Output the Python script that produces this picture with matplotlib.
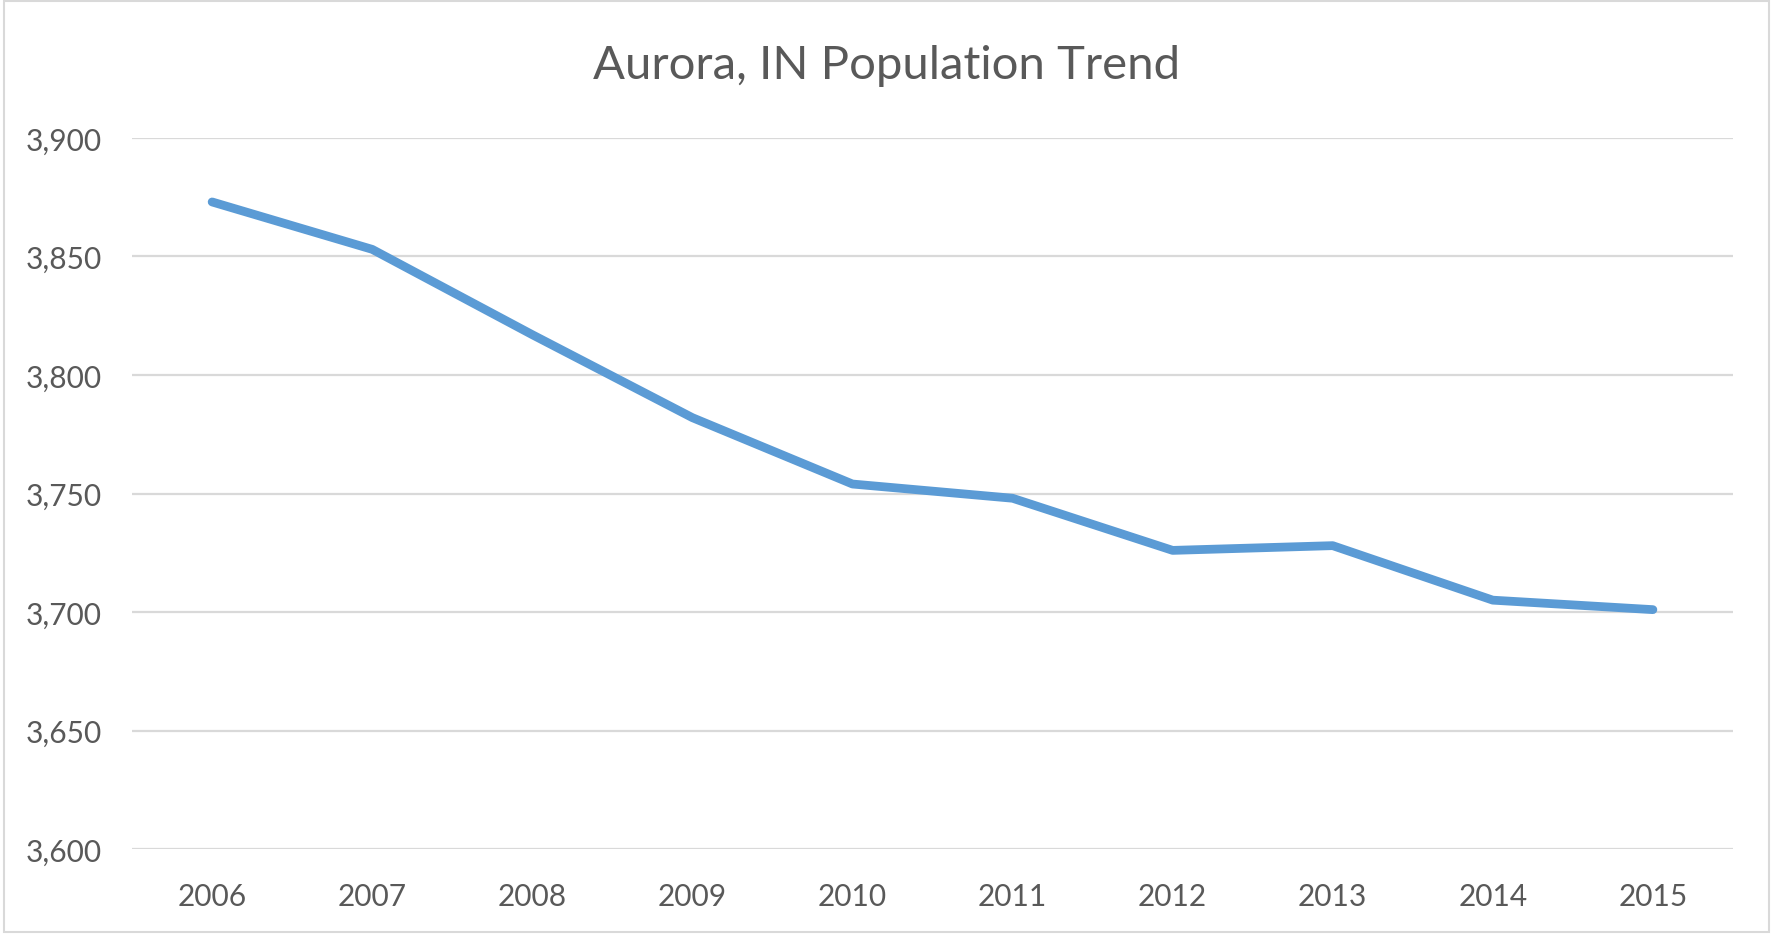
import matplotlib
matplotlib.use('Agg')
import matplotlib.pyplot as plt
from matplotlib.patches import Rectangle
from matplotlib.ticker import FuncFormatter

years = ['2006', '2007', '2008', '2009', '2010', '2011', '2012', '2013', '2014', '2015']
population = [3873, 3853, 3817, 3782, 3754, 3748, 3726, 3728, 3705, 3701]
y_ticks = [3600, 3650, 3700, 3750, 3800, 3850, 3900]

text_color = '#595959'
grid_color = '#d9d9d9'
line_color = '#5b9bd5'

plt.rcParams['font.family'] = ['Lato', 'DejaVu Sans']

fig = plt.figure(figsize=(17.73, 9.37), dpi=100)
ax = fig.add_axes([0.0745, 0.0928, 0.9029, 0.7589])

x = list(range(len(years)))
ax.plot(x, population, color=line_color, linewidth=6.3, solid_capstyle='round',
        solid_joinstyle='round', zorder=3)

ax.set_xlim(-0.5, len(years) - 0.5)
ax.set_ylim(3600, 3900)
ax.set_yticks(y_ticks)
ax.yaxis.set_major_formatter(FuncFormatter(lambda v, p: f'{int(v):,}'))
ax.set_xticks(x)
ax.set_xticklabels(years)

ax.grid(axis='y', color=grid_color, linewidth=1.6)
ax.set_axisbelow(True)
for side in ['top', 'right', 'left', 'bottom']:
    ax.spines[side].set_visible(False)
ax.tick_params(axis='both', length=0, labelsize=21.5, labelcolor=text_color)
ax.tick_params(axis='y', pad=22)
ax.tick_params(axis='x', pad=24)

fig.text(0.5, 0.93, 'Aurora, IN Population Trend', ha='center', va='center',
         fontsize=34, color=text_color)

# chart area border
fig.patches.append(Rectangle((0.002, 0.004), 0.996, 0.994, transform=fig.transFigure,
                             fill=False, edgecolor=grid_color, linewidth=1.5))

fig.savefig('out.png', dpi=100)
